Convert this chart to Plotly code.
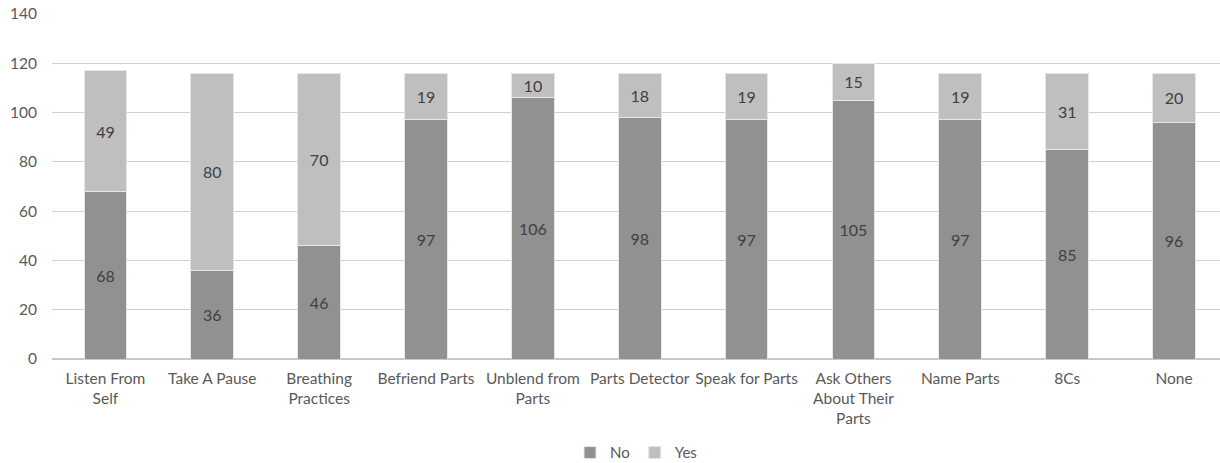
import plotly.graph_objects as go

categories = [
    "Listen From<br>Self", "Take A Pause", "Breathing<br>Practices", "Befriend Parts",
    "Unblend from<br>Parts", "Parts Detector", "Speak for Parts",
    "Ask Others<br>About Their<br>Parts", "Name Parts", "8Cs", "None",
]
no_values = [68, 36, 46, 97, 106, 98, 97, 105, 97, 85, 96]
yes_values = [49, 80, 70, 19, 10, 18, 19, 15, 19, 31, 20]
y_ticks = [0, 20, 40, 60, 80, 100, 120, 140]

FONT = "Lato"
TEXT = "#404040"
TICK = "#595959"


def stacked_bar(name, values, color):
    return go.Bar(
        name=name, x=list(range(len(categories))), y=values,
        marker=dict(color=color, line=dict(color="#e6e6e6", width=1)),
        text=values, textposition="inside", insidetextanchor="middle",
        textangle=0, constraintext="none",
        textfont=dict(family=FONT, size=16, color=TEXT), cliponaxis=False,
    )


fig = go.Figure()
fig.add_trace(stacked_bar("No", no_values, "#919191"))
fig.add_trace(stacked_bar("Yes", yes_values, "#bfbfbf"))

fig.update_layout(
    width=1220, height=463,
    barmode="stack", bargap=0.6,
    paper_bgcolor="white", plot_bgcolor="white",
    margin=dict(l=52, r=0, t=14, b=104, autoexpand=False),
    font=dict(family=FONT, size=15, color=TICK),
    uniformtext=dict(mode="show", minsize=10),
    legend=dict(
        orientation="h", x=0.5, xanchor="center",
        y=-0.272, yanchor="middle",
        font=dict(family=FONT, size=15, color=TICK),
        itemwidth=30, traceorder="normal",
    ),
    xaxis=dict(
        tickmode="array", tickvals=list(range(len(categories))), ticktext=categories,
        range=[-0.5, 10.43], showgrid=False, zeroline=False,
        showline=False, ticks="", tickangle=0, ticklabelstandoff=8,
        tickfont=dict(family=FONT, size=15.5, color=TICK),
    ),
    yaxis=dict(
        range=[0, 140], tickvals=y_ticks, showgrid=True, gridcolor="#d0d0d0",
        gridwidth=1, zeroline=True, zerolinecolor="#c8c8c8", zerolinewidth=2,
        ticks="", ticklabelstandoff=14,
        tickfont=dict(family=FONT, size=15.5, color=TICK),
    ),
)

fig.write_html("out.html")
